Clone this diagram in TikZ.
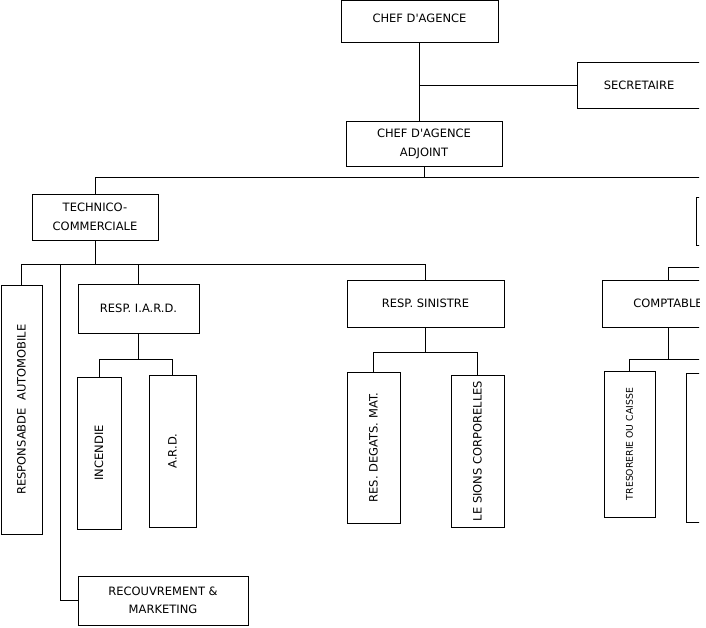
\documentclass[tikz,border=0pt]{standalone}
\usepackage{fontspec}
\setmainfont{DejaVu Sans}
\usepackage{graphicx}
\begin{document}
\begin{tikzpicture}[x=1pt, y=-1pt,
    box/.style={draw, line width=0.6pt, align=center, inner sep=0pt,
                font=\fontsize{11.5}{18.5}\selectfont},
    link/.style={line width=0.6pt}]
    \useasboundingbox (0,0) rectangle (706,627);
    \clip (0,0) rectangle (699,627);

    % Direction
    \node[box, minimum width=157pt, minimum height=42pt, text depth=6pt] (chef) at (419.5,21) {CHEF D\textquotesingle AGENCE};
    \node[box, minimum width=124pt, minimum height=46pt] (secr) at (639,85) {SECRETAIRE};
    \node[box, minimum width=156pt, minimum height=45pt] (adj) at (424,144) {CHEF D\textquotesingle AGENCE\\ADJOINT};
    \draw[link] (chef.south) -- (chef.south |- adj.north);
    \draw[link] (chef.south |- secr.west) -- (secr.west);

    % Services
    \node[box, minimum width=126pt, minimum height=46pt] (tech) at (95,217) {TECHNICO-\\COMMERCIALE};
    \node[box, minimum width=48pt, minimum height=48pt] (serv) at (720,221) {};
    \draw[link] (adj.south) -- ++(0,10) coordinate (b1);
    \draw[link] (tech.north) |- (b1) -| (serv.north);

    % Technico-commerciale
    \node[box, minimum width=41pt, minimum height=249pt] (auto) at (21.5,409.5) {\rotatebox{90}{RESPONSABDE\ \ AUTOMOBILE}};
    \node[box, minimum width=121pt, minimum height=49pt] (iard) at (138.5,308.5) {RESP. I.A.R.D.};
    \node[box, minimum width=157pt, minimum height=47pt] (sin) at (425.5,303.5) {RESP. SINISTRE};
    \node[box, minimum width=170pt, minimum height=49pt] (recouv) at (163,600.5) {RECOUVREMENT \&\\MARKETING};
    \draw[link] (tech.south) -- ++(0,24) coordinate (b2);
    \draw[link] (auto.north) |- (b2) -| (sin.north);
    \draw[link] (iard.north) -- (iard.north |- b2);
    \draw[link] ([xshift=-35pt]b2) |- (recouv.west);

    % I.A.R.D.
    \node[box, minimum width=44pt, minimum height=152pt] (inc) at (99,453) {\rotatebox{90}{INCENDIE}};
    \node[box, minimum width=47pt, minimum height=152pt] (ard) at (172.5,451) {\rotatebox{90}{A.R.D.}};
    \draw[link] (iard.south) -- ++(0,26) coordinate (b3);
    \draw[link] (inc.north) |- (b3) -| (ard.north);

    % Sinistre
    \node[box, minimum width=53pt, minimum height=151pt] (deg) at (373.5,447.5) {\rotatebox{90}{RES. DEGATS. MAT.}};
    \node[box, minimum width=53pt, minimum height=152pt] (les) at (477.5,451) {\rotatebox{90}{LE SIONS CORPORELLES}};
    \draw[link] (sin.south) -- ++(0,25) coordinate (b4);
    \draw[link] (deg.north) |- (b4) -| (les.north);

    % Comptabilite
    \node[box, minimum width=132pt, minimum height=47pt] (compt) at (668,303.5) {COMPTABLE};
    \coordinate (cin) at (720,267);
    \draw[link] (compt.north) |- (cin);
    \node[box, minimum width=51pt, minimum height=146pt, font=\fontsize{9.3}{11}\selectfont] (tres) at (629.5,444) {\rotatebox{90}{TRESORERIE OU CAISSE}};
    \node[box, minimum width=48pt, minimum height=149pt] (caisse) at (710,447.5) {};
    \draw[link] (compt.south) -- ++(0,32) coordinate (b5);
    \draw[link] (tres.north) |- (b5) -| (caisse.north);
\end{tikzpicture}
\end{document}
